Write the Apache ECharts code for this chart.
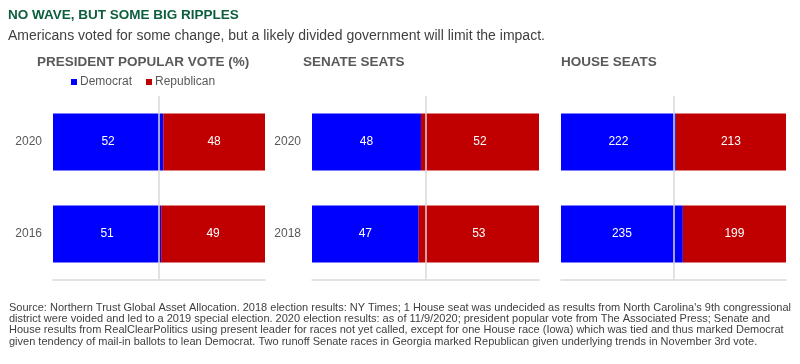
<!DOCTYPE html>
<html><head><meta charset="utf-8">
<script src="https://cdn.jsdelivr.net/npm/echarts@6/dist/echarts.min.js"></script>
<style>html,body{margin:0;padding:0;background:#fff}#c{width:800px;height:364px}</style>
</head><body><div id="c"></div>
<script>
const presYears = ['2020', '2016'];
const presDem = [52, 51];
const presRep = [48, 49];
const senYears = ['2020', '2018'];
const senDem = [48, 47];
const senRep = [52, 53];
const houseYears = ['2020', '2018'];
const houseDem = [222, 235];
const houseRep = [213, 199];

const panelTitles = ['PRESIDENT POPULAR VOTE (%)', 'SENATE SEATS', 'HOUSE SEATS'];
const footnote = [
  "Source: Northern Trust Global Asset Allocation. 2018 election results: NY Times; 1 House seat was undecided as results from North Carolina's 9th congressional",
  "district were voided and led to a 2019 special election. 2020 election results: as of 11/9/2020; president popular vote from The Associated Press; Senate and",
  "House results from RealClearPolitics using present leader for races not yet called, except for one House race (Iowa) which was tied and thus marked Democrat",
  "given tendency of mail-in ballots to lean Democrat. Two runoff Senate races in Georgia marked Republican given underlying trends in November 3rd vote."
];

const panels = [
  {years: presYears, dem: presDem, rep: presRep, left: 53, width: 212, showCat: true},
  {years: senYears, dem: senDem, rep: senRep, left: 312, width: 227, showCat: true},
  {years: houseYears, dem: houseDem, rep: houseRep, left: 561, width: 225, showCat: false}
];

const BLUE = '#0000ff', RED = '#c00000', GRAY = '#595959', LINE = '#d9d9d9';
const FONT = 'Liberation Sans';

const grids = [], xAxes = [], yAxes = [], series = [];
panels.forEach((p, i) => {
  grids.push({left: p.left, width: p.width, top: 96, height: 184});
  xAxes.push({type: 'value', gridIndex: i, min: 0, max: 100,
    axisLabel: {show: false}, splitLine: {show: false}, axisTick: {show: false},
    axisLine: {show: true, lineStyle: {color: LINE, width: 1.5}}});
  yAxes.push({type: 'category', gridIndex: i, data: p.years, inverse: true,
    axisLine: {show: false}, axisTick: {show: false},
    axisLabel: {show: p.showCat, color: GRAY, fontSize: 12, margin: 11, fontFamily: FONT}});
  const mk = (arr, name, color, other) => ({
    name: name, type: 'bar', stack: 's' + i, xAxisIndex: i, yAxisIndex: i,
    barWidth: 57,
    itemStyle: {color: color},
    data: arr.map((v, k) => v / (arr[k] + other[k]) * 100),
    label: {show: true, position: 'inside', color: '#fff', fontSize: 12,
      fontFamily: FONT,
      formatter: (prm) => String(arr[prm.dataIndex])}
  });
  const d = mk(p.dem, 'Democrat', BLUE, p.rep);
  const r = mk(p.rep, 'Republican', RED, p.dem);
  r.markLine = {silent: true, symbol: 'none', label: {show: false},
    lineStyle: {color: LINE, width: 1.5, type: 'solid'}, z: 10,
    data: [{xAxis: 50}]};
  series.push(d, r);
});

const titles = [
  {text: 'NO WAVE, BUT SOME BIG RIPPLES', left: 8, top: 8, padding: 0,
    textStyle: {color: '#0c5e3d', fontSize: 13.5, fontWeight: 'bold', fontFamily: FONT}},
  {text: 'Americans voted for some change, but a likely divided government will limit the impact.', left: 8, top: 29, padding: 0,
    textStyle: {color: '#404040', fontSize: 14, fontWeight: 'normal', fontFamily: FONT}},
  {text: panelTitles[0], left: 37, top: 55, padding: 0, textStyle: {color: GRAY, fontSize: 13.5, fontWeight: 'bold', fontFamily: FONT}},
  {text: panelTitles[1], left: 303, top: 55, padding: 0, textStyle: {color: GRAY, fontSize: 13.5, fontWeight: 'bold', fontFamily: FONT}},
  {text: panelTitles[2], left: 561, top: 55, padding: 0, textStyle: {color: GRAY, fontSize: 13.5, fontWeight: 'bold', fontFamily: FONT}},
  {text: footnote.join('\n'), left: 9, top: 302, padding: 0,
    textStyle: {color: '#404040', fontSize: 11, fontWeight: 'normal', lineHeight: 11.3, fontFamily: FONT}}
];

const chart = echarts.init(document.getElementById('c'), null, {renderer: 'canvas'});
chart.setOption({
  animation: false,
  backgroundColor: '#fff',
  title: titles,
  legend: {left: 71, top: 76, padding: 0, itemWidth: 6, itemHeight: 6, itemGap: 14, icon: 'rect',
    data: ['Democrat', 'Republican'],
    textStyle: {color: GRAY, fontSize: 12, fontFamily: FONT, padding: [0, 0, 0, -2]}},
  grid: grids,
  xAxis: xAxes,
  yAxis: yAxes,
  series: series
});
</script></body></html>
